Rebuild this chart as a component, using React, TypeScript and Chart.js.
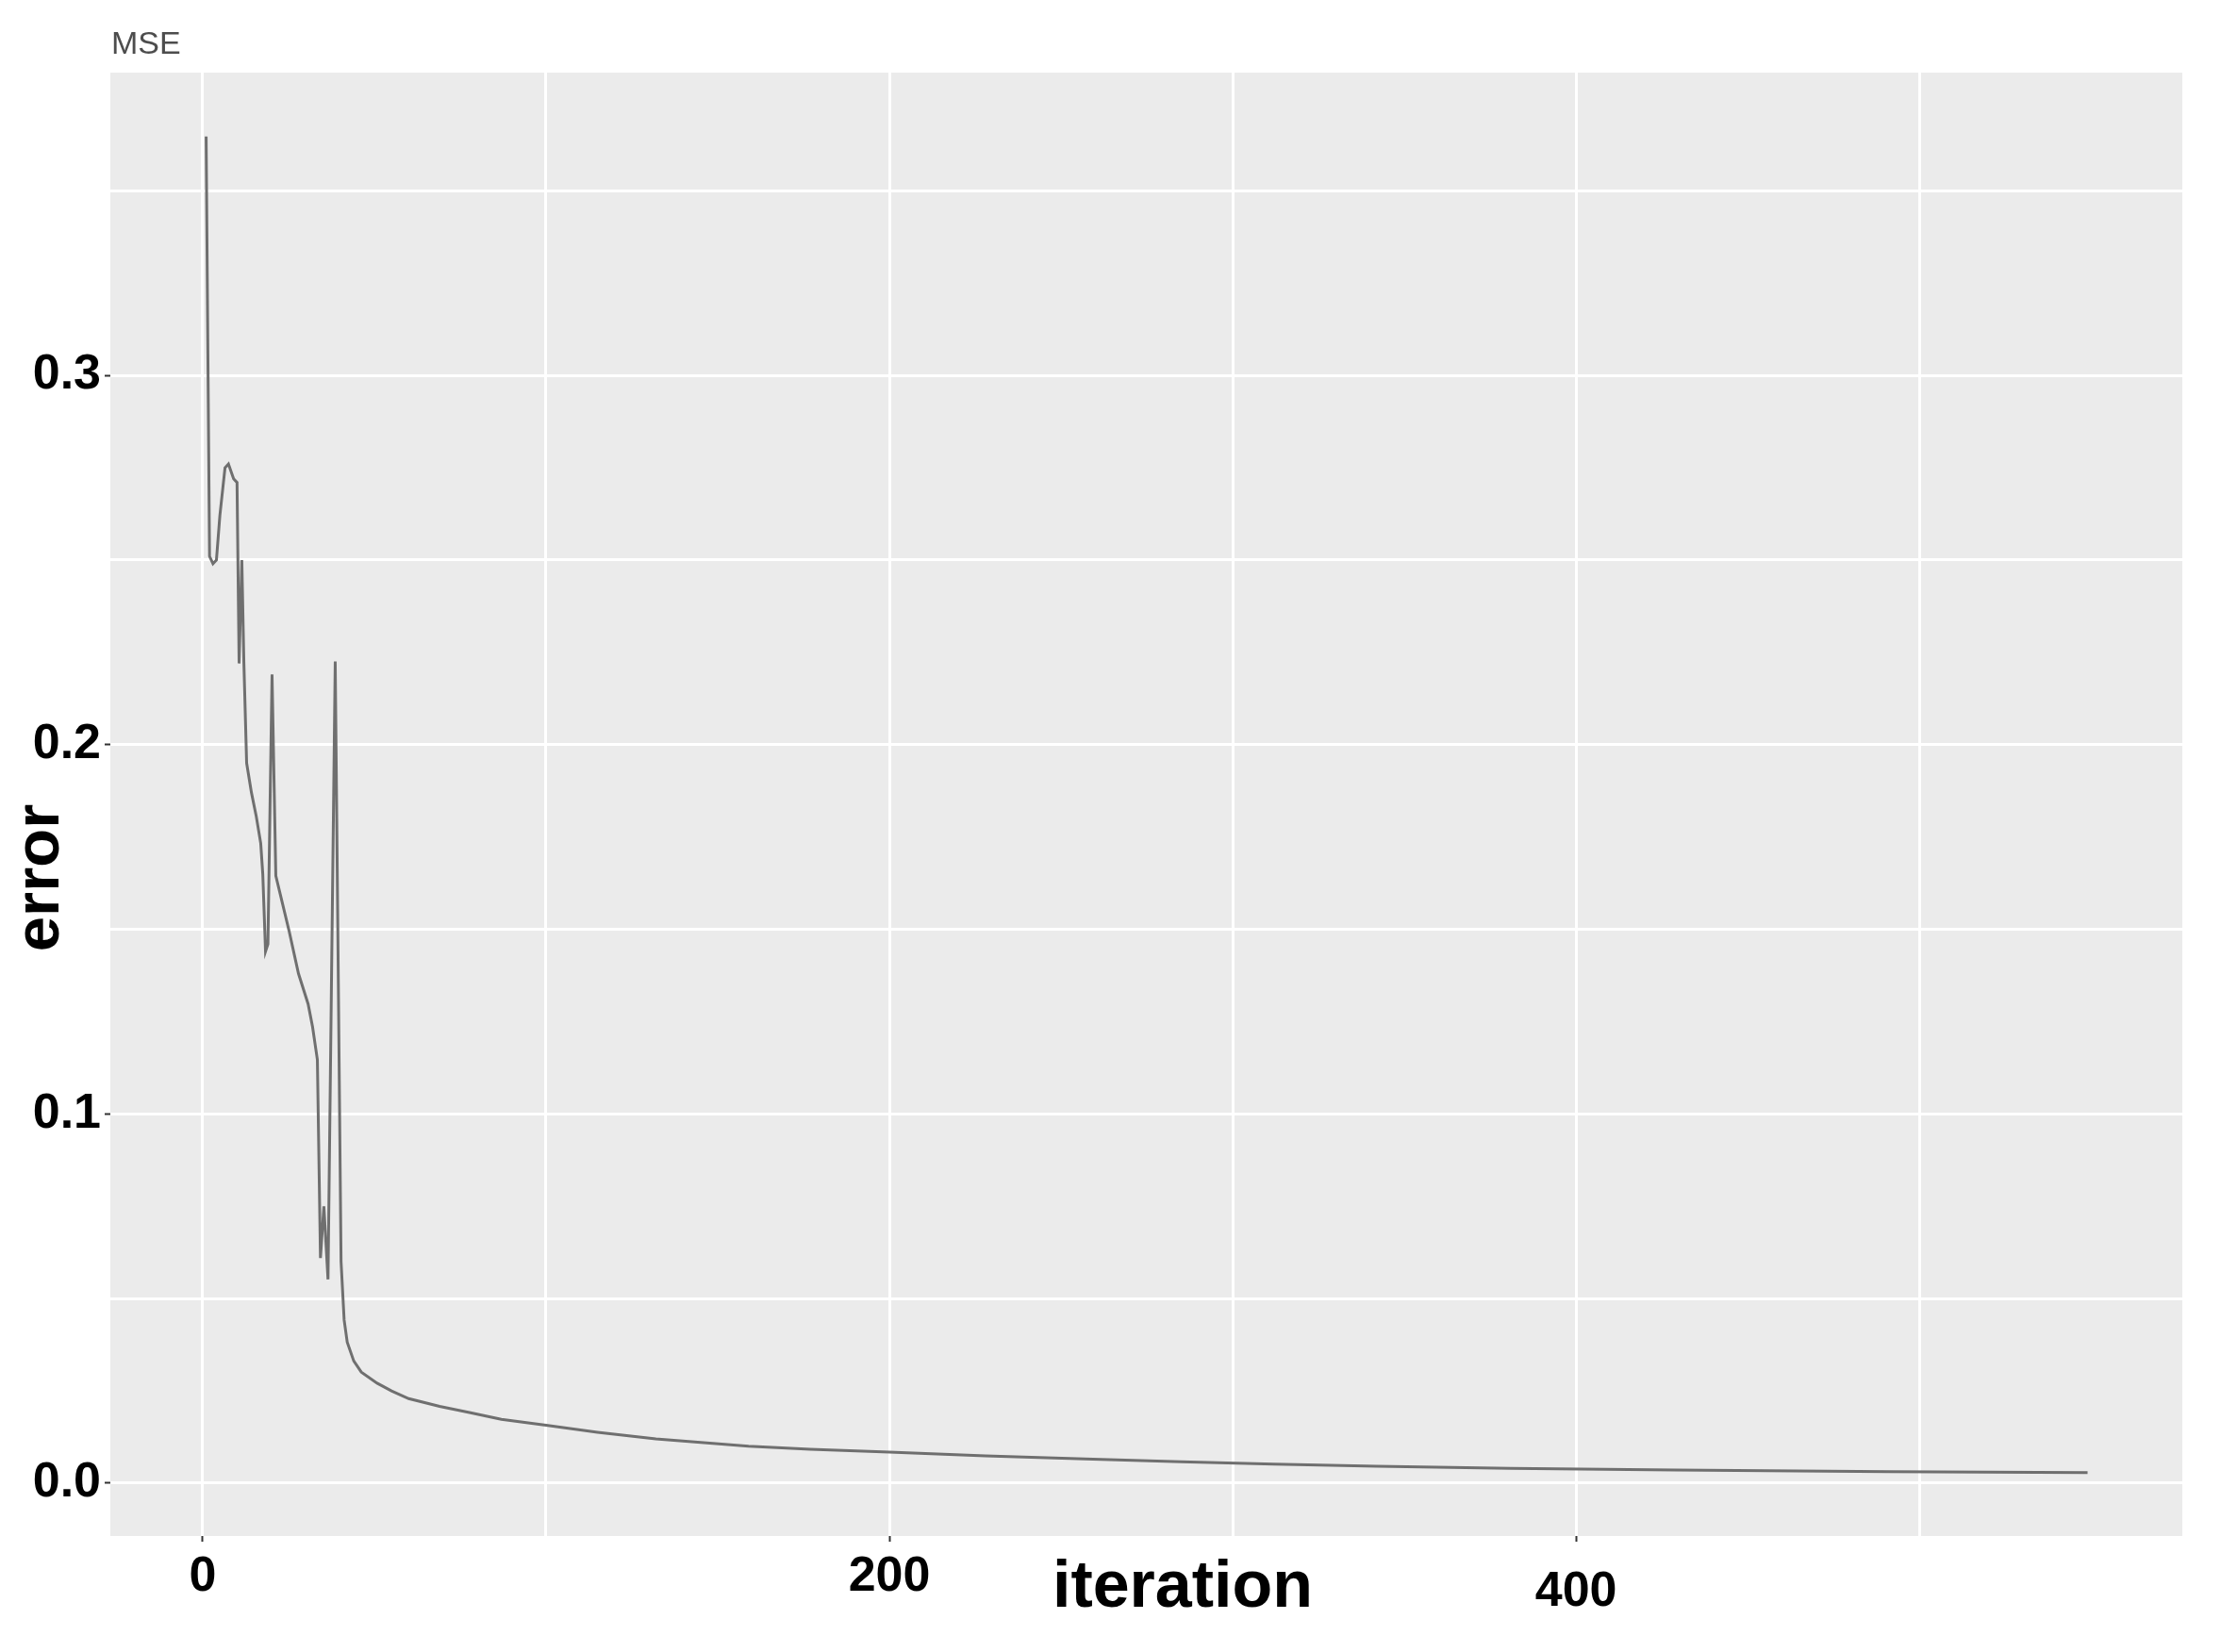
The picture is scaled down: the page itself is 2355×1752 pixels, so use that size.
import React, { useEffect, useRef } from 'react';
import { Chart, registerables } from 'chart.js';

Chart.register(...registerables);

// Data
const iterations = [
  1, 1.5, 2, 3, 4, 5, 6.5, 7.5, 9, 10,
  10.6, 11.4, 12, 12.8, 14.2, 15.6, 16.9, 17.5, 18.3, 19,
  20.2, 21.3, 25.2, 27.9, 30.7, 32, 33.4, 34.3, 35.3, 36.5,
  38.6, 40.3, 41.2, 42.1, 44, 46.2, 50.8, 55, 60, 69,
  78, 87, 100, 115, 132, 159, 177, 200, 228, 257,
  285, 312, 342, 381, 429, 491, 549,
];
const errors = [
  0.3647, 0.307, 0.251, 0.249, 0.25, 0.262, 0.275, 0.276, 0.272, 0.271,
  0.222, 0.25, 0.222, 0.195, 0.187, 0.1806, 0.1733, 0.165, 0.144, 0.146,
  0.219, 0.1645, 0.1494, 0.138, 0.1298, 0.1236, 0.1147, 0.061, 0.075, 0.0552,
  0.2225, 0.06, 0.0442, 0.0382, 0.0331, 0.0301, 0.0271, 0.025, 0.0229, 0.0208,
  0.0191, 0.0173, 0.0157, 0.0138, 0.012, 0.01, 0.0092, 0.0084, 0.0074, 0.0066,
  0.0058, 0.0052, 0.0046, 0.004, 0.0036, 0.0031, 0.0029,
];

const xGridTicks = [0, 100, 200, 300, 400, 500];
const xLabelTicks = [0, 200, 400];
const yGridTicks = [0, 0.05, 0.1, 0.15, 0.2, 0.25, 0.3, 0.35];
const yLabelTicks = [0, 0.1, 0.2, 0.3];

const panelPlugin = {
  id: 'panelPlugin',
  beforeDraw(chart: any) {
    const { ctx, chartArea: a, width, height } = chart;
    ctx.save();
    ctx.fillStyle = '#ffffff';
    ctx.fillRect(0, 0, width, height);
    ctx.fillStyle = '#EBEBEB';
    ctx.fillRect(a.left, a.top, a.right - a.left, a.bottom - a.top);
    ctx.restore();
  },
  afterDraw(chart: any) {
    const { ctx } = chart;
    ctx.save();
    // MSE label
    ctx.fillStyle = '#4d4d4d';
    ctx.font = '34px "Liberation Sans", Arial, sans-serif';
    ctx.textAlign = 'left';
    ctx.textBaseline = 'alphabetic';
    ctx.fillText('MSE', 118, 57);
    // x title
    ctx.fillStyle = '#000000';
    ctx.font = 'bold 70px "Liberation Sans", Arial, sans-serif';
    ctx.textAlign = 'center';
    ctx.fillText('iteration', 1254, 1704);
    // y title
    ctx.translate(62, 931);
    ctx.rotate(-Math.PI / 2);
    ctx.font = 'bold 67px "Liberation Sans", Arial, sans-serif';
    ctx.textAlign = 'center';
    ctx.fillText('error', 0, 0);
    ctx.restore();
  },
};

export default function App() {
  const canvasRef = useRef<HTMLCanvasElement | null>(null);

  useEffect(() => {
    if (!canvasRef.current) return;
    const points = iterations.map((x, i) => ({ x, y: errors[i] }));
    const chart = new Chart(canvasRef.current, {
      type: 'line',
      data: {
        datasets: [
          {
            label: 'MSE',
            data: points,
            borderColor: '#6f6f6f',
            borderWidth: 3,
            pointRadius: 0,
            tension: 0,
            fill: false,
          },
        ],
      },
      options: {
        animation: false,
        responsive: false,
        maintainAspectRatio: false,
        layout: { padding: { top: 77, right: 41, left: 0, bottom: 0 } },
        plugins: {
          legend: { display: false },
          tooltip: { enabled: false },
          title: { display: false },
        },
        scales: {
          x: {
            type: 'linear',
            min: -26.9,
            max: 576.6,
            afterBuildTicks: (s: any) => {
              s.ticks = xGridTicks.map((v) => ({ value: v }));
            },
            afterFit: (s: any) => {
              s.height = 123;
            },
            border: { display: false },
            grid: {
              color: '#ffffff',
              lineWidth: 3,
              tickLength: 6,
              tickWidth: 2,
              tickColor: (ctx: any) =>
                ctx.tick && xLabelTicks.includes(ctx.tick.value) ? '#333333' : 'rgba(0,0,0,0)',
            },
            ticks: {
              autoSkip: false,
              maxRotation: 0,
              minRotation: 0,
              padding: 6,
              color: '#000000',
              font: (ctx: any) => ({
                family: '"Liberation Sans", Arial, sans-serif',
                weight: 'bold',
                size: 52,
                lineHeight: ctx.tick && ctx.tick.value === 400 ? 1.82 : 1.2,
              }),
              callback: (v: any) => (xLabelTicks.includes(v) ? String(v) : ''),
            },
          },
          y: {
            type: 'linear',
            min: -0.0143,
            max: 0.382,
            afterBuildTicks: (s: any) => {
              s.ticks = yGridTicks.map((v) => ({ value: v }));
            },
            afterFit: (s: any) => {
              s.width = 117;
            },
            border: { display: false },
            grid: {
              color: '#ffffff',
              lineWidth: 3,
              tickLength: 6,
              tickWidth: 2,
              tickColor: (ctx: any) =>
                ctx.tick && yLabelTicks.includes(ctx.tick.value) ? '#333333' : 'rgba(0,0,0,0)',
            },
            ticks: {
              autoSkip: false,
              padding: 4,
              color: '#000000',
              font: {
                family: '"Liberation Sans", Arial, sans-serif',
                weight: 'bold',
                size: 52,
              },
              callback: (v: any) => (yLabelTicks.includes(v) ? Number(v).toFixed(1) : ''),
            },
          },
        },
      },
      plugins: [panelPlugin],
    } as any);
    return () => chart.destroy();
  }, []);

  return (
    <div style={{ position: 'absolute', left: 0, top: 0, width: 2355, height: 1752, background: '#ffffff' }}>
      <canvas ref={canvasRef} width={2355} height={1752} style={{ width: 2355, height: 1752, display: 'block' }} />
    </div>
  );
}
